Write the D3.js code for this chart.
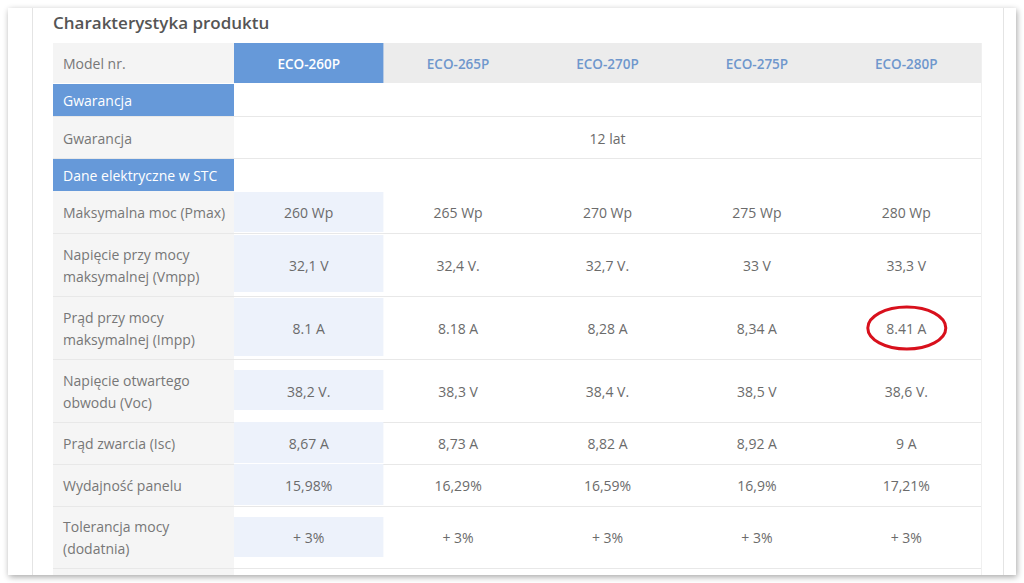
<!DOCTYPE html>
<html><head><meta charset="utf-8">
<script src="https://cdn.jsdelivr.net/npm/d3@7/dist/d3.min.js"></script>
<style>
html,body{margin:0;padding:0;background:#fff;}
svg{display:block;font-family:"Open Sans",sans-serif;}
</style></head>
<body>
<svg id="c" width="1024" height="583"></svg>
<script>
// ---- data ----
const title = "Charakterystyka produktu";
const headerLabel = "Model nr.";
const models = ["ECO-260P","ECO-265P","ECO-270P","ECO-275P","ECO-280P"];
const sectionWarranty = "Gwarancja";
const warrantyLabel = "Gwarancja";
const warrantyValue = "12 lat";
const sectionElectric = "Dane elektryczne w STC";
const rowLabels = [
  ["Maksymalna moc (Pmax)"],
  ["Napięcie przy mocy","maksymalnej (Vmpp)"],
  ["Prąd przy mocy","maksymalnej (Impp)"],
  ["Napięcie otwartego","obwodu (Voc)"],
  ["Prąd zwarcia (Isc)"],
  ["Wydajność panelu"],
  ["Tolerancja mocy","(dodatnia)"]
];
const pmax = ["260 Wp","265 Wp","270 Wp","275 Wp","280 Wp"];
const vmpp = ["32,1 V","32,4 V.","32,7 V.","33 V","33,3 V"];
const impp = ["8.1 A","8.18 A","8,28 A","8,34 A","8.41 A"];
const voc  = ["38,2 V.","38,3 V","38,4 V.","38,5 V","38,6 V."];
const isc  = ["8,67 A","8,73 A","8,82 A","8,92 A","9 A"];
const eff  = ["15,98%","16,29%","16,59%","16,9%","17,21%"];
const tol  = ["+ 3%","+ 3%","+ 3%","+ 3%","+ 3%"];
const rowValues = [pmax, vmpp, impp, voc, isc, eff, tol];
const highlightedModel = "ECO-260P";
const circled = {row: 2, model: "ECO-280P"};

// ---- layout ----
const svg = d3.select("#c");
const tableX0 = 53, labelX1 = 234, tableX1 = 981;
const x = d3.scaleBand().domain(models).range([labelX1, tableX1]);
const headerY = 43, headerH = 40;
const sec1Y = 84, sec1H = 32;
const warY = 117, warH = 41;
const sec2Y = 159, sec2H = 32;
const dataTops = [191, 233, 296, 359, 422, 464, 506];
const dataHeights = [42, 63, 63, 63, 42, 42, 62];
const hlInset = [[1,1],[2,4],[2,3],[11,12],[0,1],[0,1],[11,11]];
const lastRowY = 568;
const DY = "0.43em";

const defs = svg.append("defs");
const f = defs.append("filter").attr("id","sh").attr("x","-5%").attr("y","-5%").attr("width","110%").attr("height","110%");
f.append("feGaussianBlur").attr("in","SourceAlpha").attr("stdDeviation",3);
f.append("feOffset").attr("dx",1).attr("dy",2).attr("result","b");
f.append("feComponentTransfer").append("feFuncA").attr("type","linear").attr("slope",0.35);
const m = f.append("feMerge"); m.append("feMergeNode"); m.append("feMergeNode").attr("in","SourceGraphic");
defs.append("clipPath").attr("id","cardclip").append("rect").attr("x",8).attr("y",8).attr("width",1008).attr("height",567);

// card
svg.append("rect").attr("x",8).attr("y",8).attr("width",1008).attr("height",567).attr("fill","#fff").attr("filter","url(#sh)");
const g = svg.append("g").attr("clip-path","url(#cardclip)");
g.append("line").attr("x1",32.5).attr("x2",32.5).attr("y1",8).attr("y2",575).attr("stroke","#e4e4e4");
g.append("line").attr("x1",1003.5).attr("x2",1003.5).attr("y1",8).attr("y2",575).attr("stroke","#e4e4e4");

// title
g.append("text").attr("x",53).attr("y",28.5).attr("font-size",17).attr("font-weight",600).attr("fill","#555").text(title);

const textCol = "#6b6b6b", labelCol = "#777";
const blue = "#6699d9", lightBlue = "#edf2fb", labelBg = "#f5f5f5", lineCol = "#e8e8e8";

// header row
g.append("rect").attr("x",tableX0).attr("y",headerY).attr("width",tableX1-tableX0).attr("height",headerH).attr("fill","#ececec");
g.append("rect").attr("x",tableX0).attr("y",headerY).attr("width",labelX1-tableX0).attr("height",headerH).attr("fill","#f4f4f4");
g.append("text").attr("x",63).attr("y",headerY+headerH/2).attr("dy",DY).attr("font-size",14).attr("fill",labelCol).text(headerLabel);
g.selectAll("rect.hh").data(models.filter(d=>d===highlightedModel)).join("rect")
  .attr("x",d=>x(d)).attr("y",headerY).attr("width",x.bandwidth()).attr("height",headerH).attr("fill",blue);
g.selectAll("text.mh").data(models).join("text")
  .attr("x",d=>x(d)+x.bandwidth()/2).attr("y",headerY+headerH/2).attr("dy",DY)
  .attr("text-anchor","middle").attr("font-size",13.5).attr("font-weight",600)
  .attr("fill",d=>d===highlightedModel?"#fff":"#6f97cc").text(d=>d);

// label column background for body
g.append("rect").attr("x",tableX0).attr("y",warY).attr("width",labelX1-tableX0).attr("height",warH).attr("fill",labelBg);
g.append("rect").attr("x",tableX0).attr("y",dataTops[0]).attr("width",labelX1-tableX0).attr("height",600).attr("fill",labelBg);

// section rows
[[sec1Y,sec1H,sectionWarranty],[sec2Y,sec2H,sectionElectric]].forEach(([y0,h,t])=>{
  g.append("rect").attr("x",tableX0).attr("y",y0).attr("width",labelX1-tableX0).attr("height",h).attr("fill",blue);
  g.append("text").attr("x",63).attr("y",y0+h/2).attr("dy",DY).attr("font-size",14).attr("fill","#fff").text(t);
});

// warranty row
g.append("text").attr("x",63).attr("y",warY+warH/2).attr("dy",DY).attr("font-size",14).attr("fill",labelCol).text(warrantyLabel);
g.append("text").attr("x",(labelX1+tableX1)/2).attr("y",warY+warH/2).attr("dy",DY).attr("text-anchor","middle").attr("font-size",14).attr("fill",textCol).text(warrantyValue);

// row separator lines
const sepYs = [116.5, 158.5].concat(dataTops.slice(1).map(d=>d+0.5), [lastRowY+0.5]);
g.selectAll("line.sep").data(sepYs).join("line")
  .attr("x1",tableX0).attr("x2",tableX1).attr("y1",d=>d).attr("y2",d=>d).attr("stroke",lineCol);
g.append("line").attr("x1",tableX1+0.5).attr("x2",tableX1+0.5).attr("y1",headerY).attr("y2",575).attr("stroke","#f0f0f0");

// data rows
const rows = g.selectAll("g.row").data(rowLabels.map((l,i)=>({label:l, vals:rowValues[i], i})))
  .join("g").attr("transform",d=>`translate(0,${dataTops[d.i]})`);
rows.append("rect")
  .attr("x",x(highlightedModel)).attr("y",d=>hlInset[d.i][0])
  .attr("width",x.bandwidth()).attr("height",d=>dataHeights[d.i]-hlInset[d.i][0]-hlInset[d.i][1]).attr("fill",lightBlue);
rows.each(function(d){
  const sel = d3.select(this), h = dataHeights[d.i], n = d.label.length, lh = 22;
  d.label.forEach((t,k)=>{
    sel.append("text").attr("x",63).attr("y",h/2 + (k-(n-1)/2)*lh).attr("dy",DY)
      .attr("font-size",14).attr("fill",labelCol).text(t);
  });
  sel.selectAll("text.v").data(d.vals.map((v,j)=>({v,m:models[j]}))).join("text")
    .attr("x",e=>x(e.m)+x.bandwidth()/2).attr("y",h/2).attr("dy",DY)
    .attr("text-anchor","middle").attr("font-size",14).attr("fill",textCol).text(e=>e.v);
});

// red annotation ellipse
g.append("ellipse")
  .attr("cx",x(circled.model)+x.bandwidth()/2+0.5).attr("cy",dataTops[circled.row]+dataHeights[circled.row]/2+0.5)
  .attr("rx",39).attr("ry",21).attr("fill","none").attr("stroke","#d8101c").attr("stroke-width",3);
</script>
</body></html>
